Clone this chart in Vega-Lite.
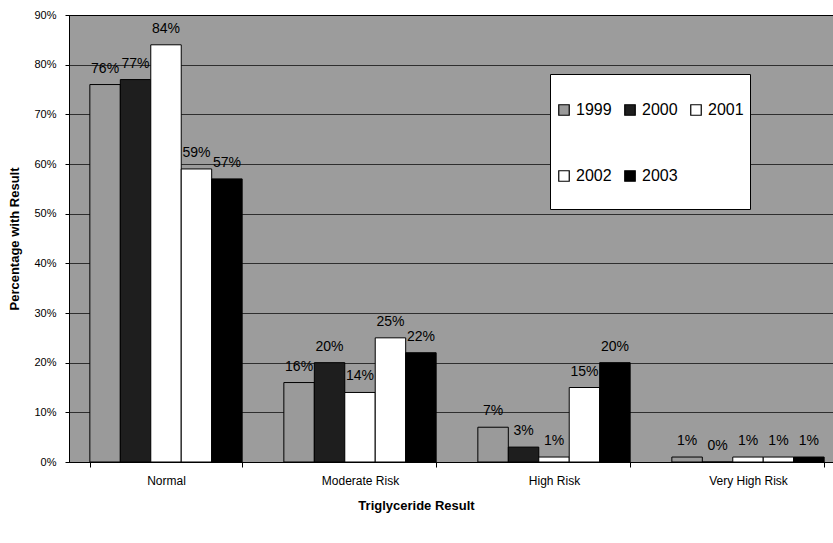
{
  "$schema": "https://vega.github.io/schema/vega-lite/v6.json",
  "width": 764,
  "height": 447,
  "autosize": "none",
  "padding": {"left": 69, "top": 15, "right": 0, "bottom": 81},
  "background": "white",
  "config": {
    "font": "Liberation Sans",
    "view": {"fill": "#9c9c9c", "stroke": "black", "strokeWidth": 1},
    "style": {"guide-label": {"lineHeight": 19}}
  },
  "data": {
    "values": [
      {"category": "Normal", "year": "1999", "value": 0.76},
      {"category": "Normal", "year": "2000", "value": 0.77},
      {"category": "Normal", "year": "2001", "value": 0.84},
      {"category": "Normal", "year": "2002", "value": 0.59},
      {"category": "Normal", "year": "2003", "value": 0.57},
      {"category": "Moderate Risk", "year": "1999", "value": 0.16},
      {"category": "Moderate Risk", "year": "2000", "value": 0.20},
      {"category": "Moderate Risk", "year": "2001", "value": 0.14},
      {"category": "Moderate Risk", "year": "2002", "value": 0.25},
      {"category": "Moderate Risk", "year": "2003", "value": 0.22},
      {"category": "High Risk", "year": "1999", "value": 0.07},
      {"category": "High Risk", "year": "2000", "value": 0.03},
      {"category": "High Risk", "year": "2001", "value": 0.01},
      {"category": "High Risk", "year": "2002", "value": 0.15},
      {"category": "High Risk", "year": "2003", "value": 0.20},
      {"category": "Very High Risk", "year": "1999", "value": 0.01},
      {"category": "Very High Risk", "year": "2000", "value": 0.0},
      {"category": "Very High Risk", "year": "2001", "value": 0.01},
      {"category": "Very High Risk", "year": "2002", "value": 0.01},
      {"category": "Very High Risk", "year": "2003", "value": 0.01}
    ]
  },
  "encoding": {
    "x": {
      "field": "category",
      "type": "nominal",
      "sort": ["Normal", "Moderate Risk", "High Risk", "Very High Risk"],
      "scale": {"range": [0, 776], "paddingInner": 0.215, "paddingOuter": 0.1075},
      "axis": {
        "title": "Triglyceride Result",
        "labelAngle": 0,
        "tickBand": "extent",
        "tickSize": 5,
        "tickColor": "black",
        "domainColor": "black",
        "labelPadding": 8,
        "labelFontSize": 12,
        "labelColor": "black",
        "titleFontSize": 13,
        "titleFontWeight": "bold",
        "titleColor": "black",
        "titlePadding": 13,
        "titleX": 347
      }
    },
    "xOffset": {
      "field": "year",
      "type": "nominal",
      "scale": {"paddingInner": 0, "paddingOuter": 0}
    },
    "y": {
      "field": "value",
      "type": "quantitative",
      "scale": {"domain": [0, 0.9], "nice": false},
      "axis": {
        "format": ".0%",
        "values": [0, 0.1, 0.2, 0.3, 0.4, 0.5, 0.6, 0.7, 0.8, 0.9],
        "grid": true,
        "gridColor": "black",
        "gridOpacity": 0.7,
        "gridWidth": 1,
        "domainColor": "black",
        "tickColor": "black",
        "tickSize": 4,
        "labelPadding": 9,
        "labelFontSize": 11,
        "labelColor": "black",
        "title": "Percentage with Result",
        "titleFontSize": 13,
        "titleFontWeight": "bold",
        "titleColor": "black",
        "titlePadding": 12
      }
    }
  },
  "layer": [
    {
      "mark": {"type": "bar", "stroke": "black", "strokeWidth": 1},
      "encoding": {
        "color": {
          "field": "year",
          "type": "nominal",
          "scale": {
            "domain": ["1999", "2000", "2001", "2002", "2003"],
            "range": ["#9a9a9a", "#1e1e1e", "#ffffff", "#ffffff", "#000000"]
          },
          "legend": {
            "title": " ",
            "titleFontSize": 12,
            "titlePadding": 10,
            "orient": "none",
            "legendX": 481,
            "legendY": 59,
            "direction": "horizontal",
            "columns": 3,
            "fillColor": "white",
            "strokeColor": "black",
            "padding": 6,
            "symbolType": "square",
            "symbolSize": 110,
            "symbolStrokeColor": "black",
            "symbolStrokeWidth": 1.2,
            "labelFontSize": 16,
            "labelColor": "black",
            "labelOffset": 4,
            "columnPadding": 10,
            "rowPadding": 31,
            "labelExpr": "[datum.label, '']"
          }
        }
      }
    },
    {
      "mark": {"type": "text", "baseline": "bottom", "dy": -9, "fontSize": 14, "color": "black"},
      "encoding": {
        "text": {"field": "value", "type": "quantitative", "format": ".0%"}
      }
    }
  ]
}
